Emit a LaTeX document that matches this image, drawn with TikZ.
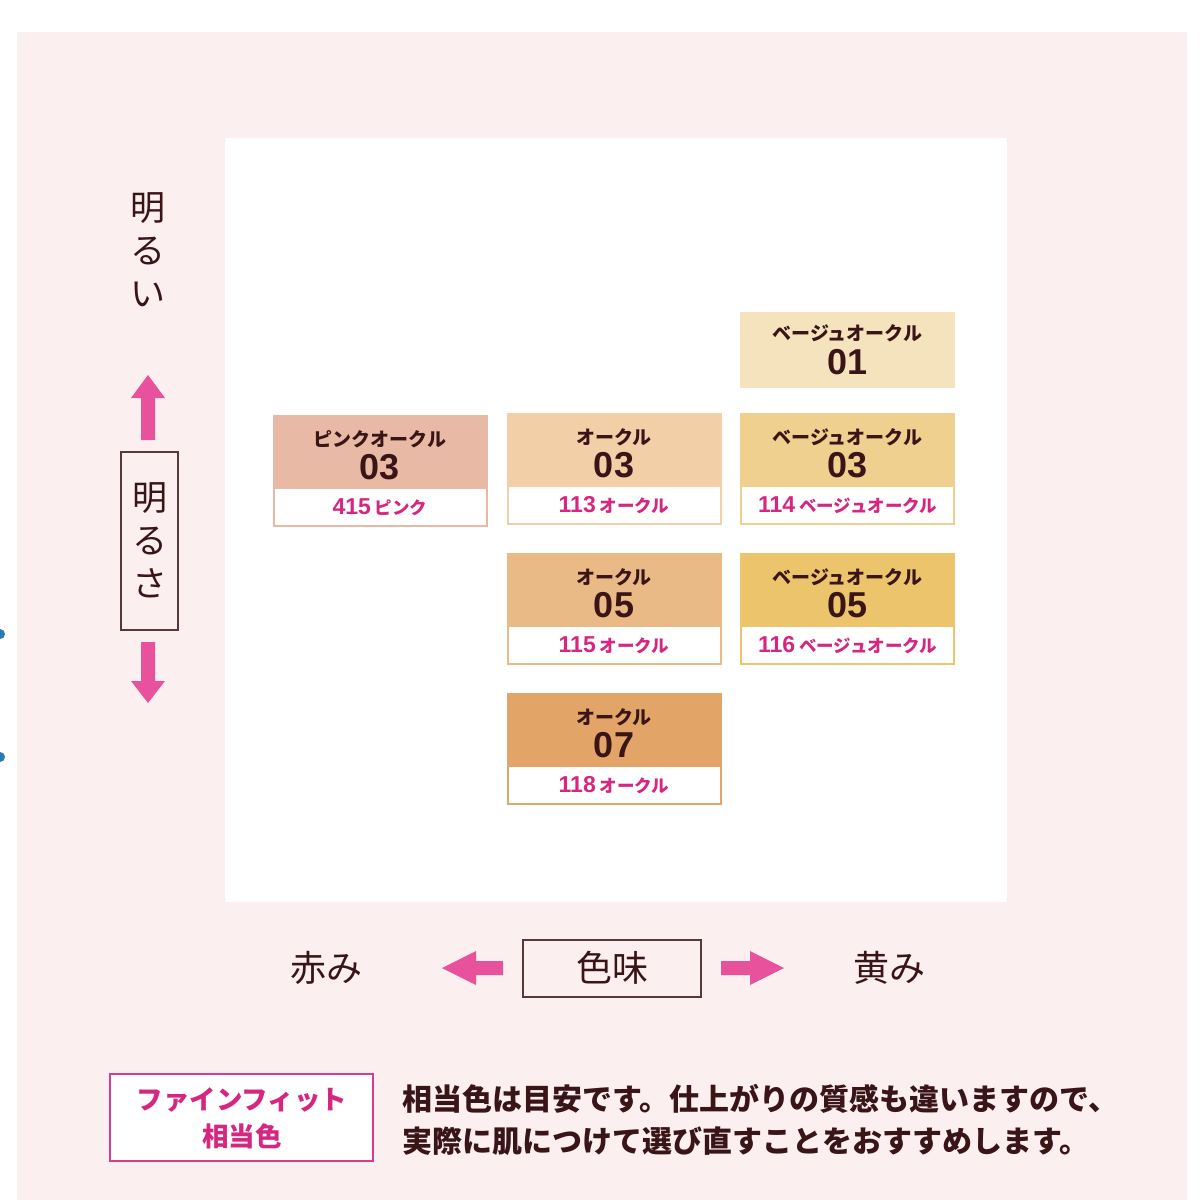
\documentclass[tikz,border=0pt]{standalone}
\usepackage{fontspec}
\newfontfamily\jp{Noto Sans CJK JP}
\newfontfamily\numf{Liberation Sans}
\definecolor{bgpink}{HTML}{FBEFEF}
\definecolor{dkbrown}{HTML}{3A1518}
\definecolor{arrowpink}{HTML}{E8529C}
\definecolor{codepink}{HTML}{D6267F}
\definecolor{boxpink}{HTML}{D93C8C}
\definecolor{dotblue}{HTML}{2A7DB0}
\definecolor{cPO}{HTML}{E8BAA5}
\definecolor{cOa}{HTML}{F2CFA6}
\definecolor{cBa}{HTML}{F5E3BD}
\definecolor{cBc}{HTML}{F0D08F}
\definecolor{cOc}{HTML}{EABA86}
\definecolor{cBe}{HTML}{EBC46B}
\definecolor{cOe}{HTML}{E3A567}
\tikzset{
  lbl/.style={font=\jp\bfseries\fontsize{19}{20}\selectfont, text=dkbrown, inner sep=0pt},
  num/.style={font=\numf\bfseries\fontsize{36}{36}\selectfont, text=dkbrown, inner sep=0pt},
  code/.style={font=\jp\bfseries\fontsize{17.5}{20}\selectfont, text=codepink, inner sep=0pt},
  vlab/.style={font=\jp\fontsize{35}{43}\selectfont, text=dkbrown, align=center, inner sep=0pt},
  hlab/.style={font=\jp\fontsize{36}{40}\selectfont, text=dkbrown, inner sep=0pt},
  note/.style={font=\jp\bfseries\fontsize{30}{30}\selectfont, text=dkbrown, inner sep=0pt, anchor=west},
  blockarrow/.style={fill=arrowpink},
  framebox/.style={draw=dkbrown!85, line width=1.4pt},
}
\begin{document}
\begin{tikzpicture}[x=1pt,y=-1pt]
\useasboundingbox (0,0) rectangle (1200,1200);
\fill[white] (0,0) rectangle (1200,1200);
\fill[bgpink] (17,32) rectangle (1187,1200);
\fill[white] (225,138) rectangle (1007,902);
% blue edge dots
\fill[dotblue] (0,634) circle (5);
\fill[dotblue] (0,757) circle (5);

% swatch 01 (no code strip)
\fill[cBa] (740,312) rectangle (955,388);
\node[lbl] (B01-l) at (847.5,333) {ベージュオークル};
\node[num] (B01-n) at (847.5,362) {01};

% swatches with code strip
\foreach \n/\cx/\t/\c/\l/\nm/\cd in {
  PO03/380/416/cPO/ピンクオークル/03/{\numf\fontsize{23}{23}\selectfont 415} ピンク,
  O03/614/414/cOa/オークル/03/{\numf\fontsize{23}{23}\selectfont 113} オークル,
  B03/847.5/414/cBc/ベージュオークル/03/{\numf\fontsize{23}{23}\selectfont 114} ベージュオークル,
  O05/614/554/cOc/オークル/05/{\numf\fontsize{23}{23}\selectfont 115} オークル,
  B05/847.5/554/cBe/ベージュオークル/05/{\numf\fontsize{23}{23}\selectfont 116} ベージュオークル,
  O07/614/694/cOe/オークル/07/{\numf\fontsize{23}{23}\selectfont 118} オークル}{
  \filldraw[fill=white, draw=\c, line width=2pt] (\cx-106.5,\t) rectangle (\cx+106.5,\t+110);
  \fill[\c] (\cx-107.5,\t-1) rectangle (\cx+107.5,\t+73);
  \node[lbl] (\n-l) at (\cx,\t+23) {\l};
  \node[num] (\n-n) at (\cx,\t+51) {\nm};
  \node[code] (\n-c) at (\cx,\t+91) {\cd};
}

% vertical axis
\node[vlab] (bright) at (148,250) {明\\る\\い};
\fill[blockarrow] (148,375) -- (165,398) -- (155,398) -- (155,440) -- (141,440) -- (141,398) -- (131,398) -- cycle;
\draw[framebox] (121,452) rectangle (178,630);
\node[vlab] (brightness) at (149.5,540) {明\\る\\さ};
\fill[blockarrow] (148,703) -- (165,681) -- (155,681) -- (155,642) -- (141,642) -- (141,681) -- (131,681) -- cycle;

% horizontal axis
\node[hlab] (red) at (326,968) {赤み};
\fill[blockarrow] (442,968) -- (476,951) -- (476,961) -- (503,961) -- (503,975) -- (476,975) -- (476,985) -- cycle;
\draw[framebox] (523,940) rectangle (701,997);
\node[hlab] (hue) at (612,968) {色味};
\fill[blockarrow] (784,968) -- (750,951) -- (750,961) -- (721,961) -- (721,975) -- (750,975) -- (750,985) -- cycle;
\node[hlab] (yellow) at (889,968) {黄み};

% bottom note
\filldraw[fill=white, draw=boxpink, line width=1.6pt] (110,1074) rectangle (373,1161);
\node[font=\jp\bfseries\fontsize{26.5}{37}\selectfont, text=codepink, align=center, inner sep=0pt] (fine) at (242,1118) {ファインフィット\\相当色};
\node[note] (n1) at (402,1099) {相当色は目安です。仕上がりの質感も違いますので、};
\node[note] (n2) at (402,1141) {実際に肌につけて選び直すことをおすすめします。};
\end{tikzpicture}
\end{document}
